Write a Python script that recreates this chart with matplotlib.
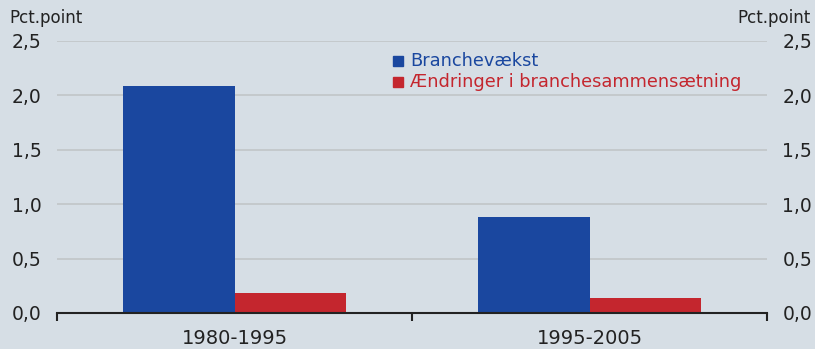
import matplotlib.pyplot as plt
import numpy as np

periods = ["1980-1995", "1995-2005"]
branchevaekst = [2.09, 0.88]
sammensaetning = [0.18, 0.14]
series_names = ["Branchevækst", "Ændringer i branchesammensætning"]
yticks = [0.0, 0.5, 1.0, 1.5, 2.0, 2.5]

bg = "#d6dee5"
blue = "#1a479f"
red = "#c4262e"
ink = "#222222"

fig = plt.figure(figsize=(8.15, 3.49), dpi=100, facecolor=bg)
ax = fig.add_axes([57 / 815, 1 - 313 / 349, 710 / 815, 272 / 349], facecolor=bg)

x = np.arange(len(periods))
w = 0.315
ax.bar(x - w / 2, branchevaekst, w, color=blue, zorder=3)
ax.bar(x + w / 2, sammensaetning, w, color=red, zorder=3)

ax.set_xlim(-0.5, 1.5)
ax.set_ylim(0, 2.5)
ax.set_yticks(yticks)
ax.yaxis.grid(True, color="#c3c7ca", linewidth=1.3, zorder=0)
ax.tick_params(axis="y", length=0, labelsize=13.5, colors=ink, pad=11,
               left=True, right=True, labelleft=True, labelright=True)
ax.set_yticklabels([f"{v:.1f}".replace(".", ",") for v in yticks])

# category labels centred in each group, boundary ticks between them
ax.set_xticks([-0.5, 0.5, 1.5])
ax.set_xticklabels([])
ax.tick_params(axis="x", direction="out", length=6, width=1.5, color=ink)
for xi, lab in zip(x, periods):
    ax.text(xi, -0.15, lab, ha="center", va="top", fontsize=14, color=ink,
            transform=ax.transData, clip_on=False)

for side in ["top", "left", "right"]:
    ax.spines[side].set_visible(False)
ax.spines["bottom"].set_color(ink)
ax.spines["bottom"].set_linewidth(1.5)
ax.spines["bottom"].set_zorder(4)

fig.text(9 / 815, 1 - 18 / 349, "Pct.point", fontsize=12, color=ink, va="center")
fig.text(811 / 815, 1 - 18 / 349, "Pct.point", fontsize=12, color=ink,
         va="center", ha="right")

# legend as coloured squares with text in the series colour
for i, (name, col) in enumerate(zip(series_names, [blue, red])):
    yy = 1 - (61 + 21 * i) / 349
    fig.patches.append(plt.Rectangle((393 / 815, yy - 5 / 349), 10 / 815, 10 / 349,
                                     transform=fig.transFigure, color=col))
    fig.text(410 / 815, yy, name, fontsize=12.8, color=col, va="center")

fig.savefig("out.png", dpi=100, facecolor=bg)
